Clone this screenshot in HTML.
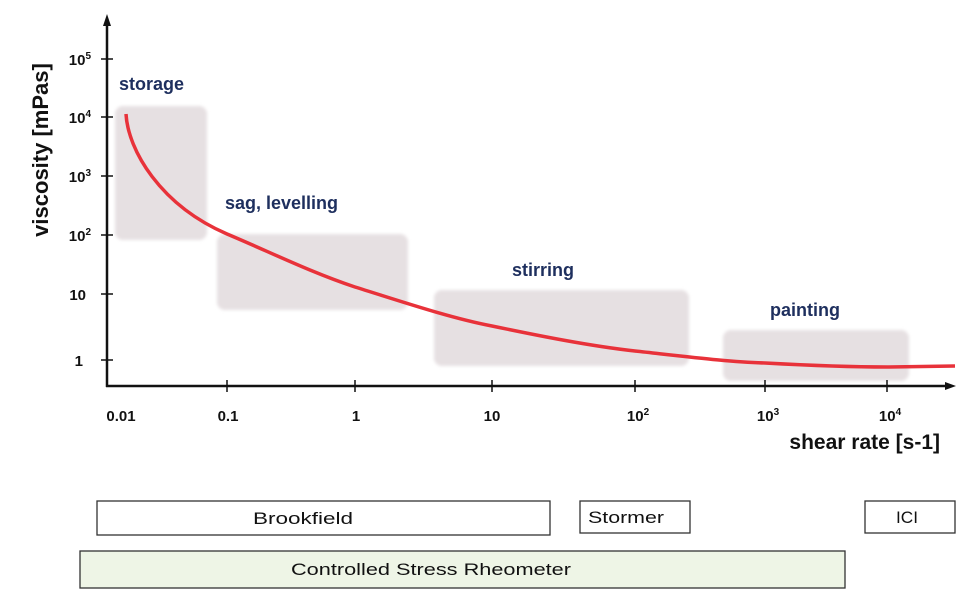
<!DOCTYPE html>
<html><head><meta charset="utf-8"><style>
body{margin:0;background:#fff;}
svg{display:block;font-family:"Liberation Sans",Arial,sans-serif;}
</style></head><body>
<svg width="980" height="616" viewBox="0 0 980 616" xmlns="http://www.w3.org/2000/svg">
<defs><filter id="b"><feGaussianBlur stdDeviation="1.5"/></filter></defs>
<g fill="#e6e0e2" filter="url(#b)">
<rect x="115" y="106" width="92" height="134" rx="8"/>
<rect x="217" y="234" width="191" height="76" rx="8"/>
<rect x="434" y="290" width="255" height="76" rx="8"/>
<rect x="723" y="330" width="186" height="51" rx="8"/>
</g>
<g stroke="#111" stroke-width="2.5" fill="none">
<line x1="107" y1="24" x2="107" y2="387"/>
<line x1="106" y1="386" x2="948" y2="386"/>
</g>
<polygon points="107,14 103,26 111,26" fill="#111"/>
<polygon points="956,386 945,382 945,390" fill="#111"/>
<g stroke="#111" stroke-width="1.5">
<line x1="101" y1="59" x2="113" y2="59"/><line x1="101" y1="117" x2="113" y2="117"/>
<line x1="101" y1="176" x2="113" y2="176"/><line x1="101" y1="235" x2="113" y2="235"/>
<line x1="101" y1="294" x2="113" y2="294"/><line x1="101" y1="360" x2="113" y2="360"/>
<line x1="227" y1="380" x2="227" y2="392"/><line x1="355" y1="380" x2="355" y2="392"/>
<line x1="492" y1="380" x2="492" y2="392"/><line x1="635" y1="380" x2="635" y2="392"/>
<line x1="765" y1="380" x2="765" y2="392"/><line x1="887" y1="380" x2="887" y2="392"/>
</g>
<g font-weight="bold" font-size="15" fill="#111" text-anchor="end">
<text x="91" y="65">10<tspan font-size="10" dy="-6">5</tspan></text>
<text x="91" y="123">10<tspan font-size="10" dy="-6">4</tspan></text>
<text x="91" y="182">10<tspan font-size="10" dy="-6">3</tspan></text>
<text x="91" y="241">10<tspan font-size="10" dy="-6">2</tspan></text>
<text x="86" y="300">10</text>
<text x="83" y="366">1</text>
</g>
<g font-weight="bold" font-size="15" fill="#111" text-anchor="middle">
<text x="121" y="421">0.01</text>
<text x="228" y="421">0.1</text>
<text x="356" y="421">1</text>
<text x="492" y="421">10</text>
<text x="638" y="421">10<tspan font-size="10" dy="-6">2</tspan></text>
<text x="768" y="421">10<tspan font-size="10" dy="-6">3</tspan></text>
<text x="890" y="421">10<tspan font-size="10" dy="-6">4</tspan></text>
</g>
<text x="940" y="449" text-anchor="end" font-weight="bold" font-size="21" fill="#111">shear rate [s-1]</text>
<text transform="translate(48,150) rotate(-90)" text-anchor="middle" font-weight="bold" font-size="22" fill="#111">viscosity [mPas]</text>
<g font-weight="bold" font-size="18" fill="#1e2f5e">
<text x="119" y="90">storage</text>
<text x="225" y="209">sag, levelling</text>
<text x="512" y="276">stirring</text>
<text x="770" y="316">painting</text>
</g>
<path d="M126,114 C128,150 160,205 227,234 C270,252 310,272 355,287 C400,301 450,318 492,326 C540,336 590,346 635,351 C690,357 730,362 765,363 C820,366 860,367 887,367 L955,366" fill="none" stroke="#e8323a" stroke-width="3.5"/>
<g stroke="#333" stroke-width="1.3" fill="#fff">
<rect x="97" y="501" width="453" height="34"/>
<rect x="580" y="501" width="110" height="32"/>
<rect x="865" y="501" width="90" height="32"/>
<rect x="80" y="551" width="765" height="37" fill="#eef5e6"/>
</g>
<g font-size="17" fill="#111" text-anchor="middle">
<text x="303" y="524" textLength="100" lengthAdjust="spacingAndGlyphs">Brookfield</text>
<text x="626" y="523" textLength="76" lengthAdjust="spacingAndGlyphs">Stormer</text>
<text x="907" y="523" textLength="22" lengthAdjust="spacingAndGlyphs">ICI</text>
<text x="431" y="575" textLength="280" lengthAdjust="spacingAndGlyphs">Controlled Stress Rheometer</text>
</g>
</svg>
</body></html>
